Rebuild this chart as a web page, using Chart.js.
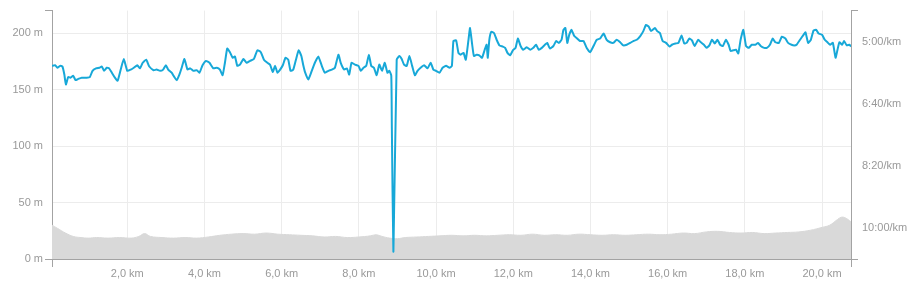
<!DOCTYPE html>
<html>
<head>
<meta charset="utf-8">
<script src="https://cdn.jsdelivr.net/npm/chart.js@4.4.0/dist/chart.umd.min.js"></script>
<style>
  html, body { margin: 0; padding: 0; background: #fff; }
  #wrap { width: 920px; height: 291px; position: relative; }
</style>
</head>
<body>
<div id="wrap"><canvas id="chart"></canvas></div>
<script>
// Pace along the route (km, seconds per km)
const paceKm = [0.05, 0.13, 0.19, 0.26, 0.32, 0.37, 0.41, 0.47, 0.53, 0.60, 0.66, 0.73, 0.82, 0.95, 1.03, 1.10, 1.19, 1.28, 1.34, 1.40,
  1.47, 1.53, 1.60, 1.68, 1.75, 1.83, 1.91, 2.00, 2.09, 2.17, 2.26, 2.33, 2.40, 2.49, 2.57, 2.68, 2.76, 2.85, 2.93, 3.00,
  3.06, 3.15, 3.21, 3.28, 3.35, 3.41, 3.48, 3.56, 3.63, 3.71, 3.80, 3.87, 3.95, 4.04, 4.13, 4.23, 4.32, 4.40, 4.47, 4.53,
  4.59, 4.66, 4.73, 4.79, 4.85, 4.92, 5.01, 5.09, 5.18, 5.28, 5.37, 5.46, 5.54, 5.63, 5.70, 5.77, 5.83, 5.89, 5.96, 6.03,
  6.10, 6.17, 6.23, 6.30, 6.37, 6.44, 6.51, 6.56, 6.61, 6.69, 6.78, 6.86, 6.95, 7.04, 7.12, 7.21, 7.30, 7.38, 7.47, 7.53,
  7.62, 7.69, 7.75, 7.81, 7.90, 7.99, 8.05, 8.12, 8.19, 8.26, 8.32, 8.39, 8.46, 8.53, 8.60, 8.67, 8.74, 8.79, 8.84, 8.855,
  8.895, 8.98, 9.05, 9.11, 9.17, 9.24, 9.31, 9.38, 9.45, 9.52, 9.60, 9.69, 9.78, 9.86, 9.93, 10.00, 10.09, 10.17, 10.26, 10.35,
  10.41, 10.45, 10.52, 10.58, 10.64, 10.71, 10.77, 10.84, 10.88, 10.93, 10.98, 11.05, 11.12, 11.19, 11.26, 11.31, 11.34, 11.38, 11.43, 11.50,
  11.57, 11.64, 11.73, 11.79, 11.85, 11.92, 11.99, 12.06, 12.12, 12.19, 12.26, 12.35, 12.44, 12.52, 12.59, 12.66, 12.74, 12.82, 12.88, 12.95,
  13.04, 13.11, 13.18, 13.25, 13.30, 13.35, 13.40, 13.45, 13.51, 13.58, 13.64, 13.73, 13.82, 13.90, 13.99, 14.08, 14.16, 14.25, 14.34, 14.42,
  14.51, 14.59, 14.68, 14.77, 14.85, 14.94, 15.03, 15.11, 15.20, 15.29, 15.37, 15.44, 15.51, 15.57, 15.67, 15.73, 15.80, 15.87, 15.96, 16.05,
  16.11, 16.20, 16.28, 16.36, 16.43, 16.49, 16.56, 16.63, 16.70, 16.79, 16.86, 16.94, 17.01, 17.08, 17.15, 17.22, 17.29, 17.36, 17.43, 17.51,
  17.58, 17.63, 17.70, 17.77, 17.83, 17.89, 17.96, 18.03, 18.10, 18.18, 18.27, 18.34, 18.41, 18.50, 18.57, 18.65, 18.72, 18.79, 18.88, 18.96,
  19.05, 19.12, 19.21, 19.28, 19.34, 19.43, 19.52, 19.57, 19.64, 19.71, 19.78, 19.85, 19.91, 20.00, 20.07, 20.14, 20.21, 20.28, 20.35, 20.40,
  20.45, 20.52, 20.57, 20.64, 20.71, 20.75];
const paceSec = [339, 338, 342, 339, 340, 353, 369, 357, 358, 355, 362, 360, 358, 358, 357, 347, 343, 342, 340, 347,
  342, 343, 350, 358, 363, 345, 328, 347, 345, 342, 338, 343, 334, 329, 340, 346, 345, 347, 345, 338,
  345, 350, 356, 362, 353, 342, 328, 345, 343, 347, 346, 350, 338, 331, 334, 343, 342, 345, 354, 334,
  311, 317, 326, 324, 339, 337, 328, 334, 331, 328, 314, 317, 329, 334, 337, 349, 339, 350, 345, 338,
  326, 329, 347, 345, 329, 314, 323, 338, 350, 361, 347, 334, 324, 339, 350, 347, 345, 342, 321, 334,
  345, 343, 353, 334, 337, 339, 347, 342, 339, 321, 339, 342, 354, 337, 347, 334, 350, 347, 355, 440,
  638, 329, 323, 328, 337, 339, 323, 339, 354, 347, 342, 338, 343, 334, 345, 347, 350, 342, 339, 342,
  339, 299, 298, 318, 321, 318, 329, 297, 278, 302, 323, 321, 322, 326, 313, 305, 326, 297, 284, 286,
  297, 306, 308, 310, 318, 322, 314, 310, 295, 307, 313, 309, 313, 310, 305, 313, 310, 305, 302, 311,
  307, 299, 302, 297, 281, 278, 302, 289, 281, 291, 294, 299, 299, 310, 317, 307, 297, 295, 287, 297,
  301, 302, 297, 301, 306, 305, 302, 299, 297, 291, 283, 273, 276, 283, 278, 283, 286, 299, 302, 308,
  305, 303, 302, 290, 303, 302, 295, 298, 307, 297, 301, 305, 310, 306, 297, 303, 297, 305, 307, 297,
  305, 315, 314, 313, 319, 297, 281, 307, 310, 305, 305, 302, 307, 310, 310, 305, 295, 301, 302, 292,
  295, 302, 305, 306, 305, 297, 289, 285, 302, 297, 282, 281, 287, 289, 297, 301, 305, 302, 326, 313,
  301, 305, 299, 306, 305, 308];

// Elevation profile (km, metres)
const elevKm = [0.05, 0.2, 0.4, 0.6, 0.8, 1.0, 1.2, 1.5, 1.8, 2.1, 2.3, 2.45, 2.6, 2.9, 3.2, 3.5, 3.8, 4.1, 4.4, 4.7,
  5.0, 5.3, 5.6, 5.9, 6.2, 6.5, 6.8, 7.1, 7.4, 7.7, 8.0, 8.3, 8.45, 8.6, 8.8, 9.0, 9.2, 9.5, 9.8, 10.1,
  10.4, 10.7, 11.0, 11.3, 11.6, 11.9, 12.2, 12.5, 12.8, 13.1, 13.4, 13.7, 14.0, 14.3, 14.6, 14.9, 15.2, 15.5, 15.8, 16.1,
  16.4, 16.7, 17.0, 17.3, 17.6, 17.9, 18.2, 18.5, 18.8, 19.1, 19.4, 19.7, 20.0, 20.2, 20.4, 20.5, 20.6, 20.75];
const elevM = [30, 27, 23, 20, 19, 18.5, 19, 18.5, 19, 18.5, 20, 22.5, 20, 19, 18.5, 19, 18.5, 19.5, 21, 22,
  22.5, 22, 23, 22, 21.5, 21, 20.5, 19.5, 20, 19, 19.5, 20.5, 21.5, 20, 18.5, 18, 19, 19.5, 20, 20.5,
  21, 20.5, 21, 20.5, 21, 21.5, 21, 22, 21, 21.5, 21, 22, 21.5, 21, 21.5, 21, 21.5, 22, 21.5, 22,
  23, 22.5, 24, 24.5, 23.5, 23, 23.5, 22.5, 23, 23.5, 24, 25.5, 28, 30, 35, 37, 36.5, 33];

// Axis ticks
const distTicks = [2, 4, 6, 8, 10, 12, 14, 16, 18, 20];
const elevTicks = [0, 50, 100, 150, 200];
const paceTicks = [300, 400, 500, 600];
const distMin = 0.05, distMax = 20.75;
const elevMin = 0, elevMax = 220;
const paceMin = 250, paceMax = 650;

const axisGray = "#a3a3a3";
const gridGray = "#ececec";
const labelGray = "#999999";

Chart.defaults.font.family = "'Liberation Sans', Arial, sans-serif";
Chart.defaults.font.size = 11;
Chart.defaults.color = labelGray;

function formatPace(sec) {
  const m = Math.floor(sec / 60);
  const s = Math.round(sec % 60);
  return m + ":" + (s < 10 ? "0" : "") + s + "/km";
}

function formatKm(km) {
  return km.toFixed(1).replace(".", ",") + " km";
}

// each axis gets its two end values as ticks too: a short mark, no label, no grid line
function withBounds(inner, min, max) {
  return (axis) => {
    const vals = inner.slice();
    if (!vals.includes(min)) vals.unshift(min);
    if (!vals.includes(max)) vals.push(max);
    axis.ticks = vals.map(v => ({ value: v }));
  };
}

const isBound = (v, min, max) => v === min || v === max;

const paceData = paceKm.map((km, i) => ({ x: km, y: paceSec[i] }));
const elevData = elevKm.map((km, i) => ({ x: km, y: elevM[i] }));

new Chart(document.getElementById("chart"), {
  type: "line",
  data: {
    datasets: [
      {
        label: "Pace",
        data: paceData,
        yAxisID: "pace",
        borderColor: "#17a8d8",
        borderWidth: 2,
        pointRadius: 0,
        tension: 0.15,
        fill: false,
      },
      {
        label: "Elevation",
        data: elevData,
        yAxisID: "elev",
        borderColor: "#d9d9d9",
        borderWidth: 1,
        backgroundColor: "#d9d9d9",
        pointRadius: 0,
        tension: 0.4,
        fill: "origin",
      },
    ],
  },
  options: {
    responsive: true,
    maintainAspectRatio: false,
    animation: false,
    layout: { padding: { top: 9, left: 0, right: 0, bottom: 0 } },
    plugins: {
      legend: { display: false },
      tooltip: { enabled: false },
    },
    scales: {
      x: {
        type: "linear",
        min: distMin,
        max: distMax,
        afterBuildTicks: withBounds(distTicks, distMin, distMax),
        afterFit: (s) => { s.height = 32; },
        border: { display: true, color: axisGray },
        grid: {
          color: (ctx) => isBound(ctx.tick.value, distMin, distMax) ? "rgba(0,0,0,0)" : gridGray,
          tickColor: (ctx) => isBound(ctx.tick.value, distMin, distMax) ? axisGray : "rgba(0,0,0,0)",
          tickLength: 8,
        },
        ticks: {
          autoSkip: false,
          maxRotation: 0,
          padding: 0,
          callback: (v) => isBound(v, distMin, distMax) ? "" : formatKm(v),
        },
      },
      elev: {
        type: "linear",
        position: "left",
        min: elevMin,
        max: elevMax,
        afterBuildTicks: withBounds(elevTicks, elevMin, elevMax),
        afterFit: (s) => { s.width = 52; },
        border: { display: true, color: axisGray },
        grid: {
          color: (ctx) => isBound(ctx.tick.value, elevMin, elevMax) ? "rgba(0,0,0,0)" : gridGray,
          tickColor: (ctx) => isBound(ctx.tick.value, elevMin, elevMax) ? axisGray : "rgba(0,0,0,0)",
          tickLength: 7,
        },
        ticks: {
          padding: 2,
          callback: (v) => v === elevMax ? "" : v + " m",
        },
      },
      pace: {
        type: "linear",
        position: "right",
        reverse: true,
        min: paceMin,
        max: paceMax,
        afterBuildTicks: withBounds(paceTicks, paceMin, paceMax),
        afterFit: (s) => { s.width = 69; },
        border: { display: true, color: axisGray },
        grid: {
          drawOnChartArea: false,
          tickColor: (ctx) => isBound(ctx.tick.value, paceMin, paceMax) ? axisGray : "rgba(0,0,0,0)",
          tickLength: 7,
        },
        ticks: {
          padding: 4,
          callback: (v) => isBound(v, paceMin, paceMax) ? "" : formatPace(v),
        },
      },
    },
  },
});
</script>
</body>
</html>
